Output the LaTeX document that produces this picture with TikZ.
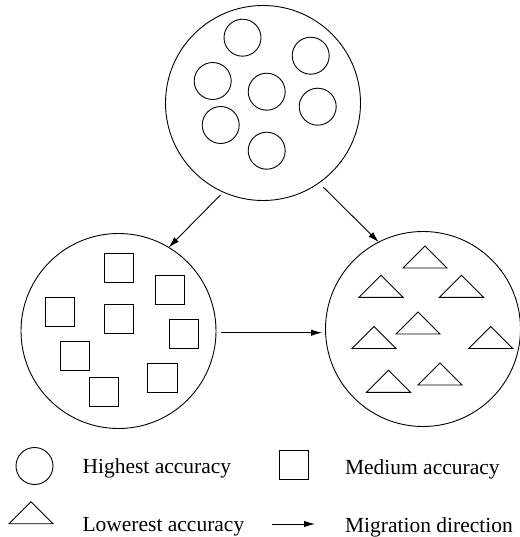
\documentclass[tikz,border=0pt]{standalone}
\usepackage{fontspec}
\setmainfont{Liberation Serif}
\usetikzlibrary{positioning,arrows.meta}

\begin{document}
\begin{tikzpicture}[x=1pt,y=-1pt,
  every node/.style={inner sep=0pt,outer sep=0pt},
  pool/.style={draw=black,circle,line width=0.9pt,minimum size=195pt},
  high/.style={draw=black,circle,line width=0.9pt,minimum size=37pt},
  medium/.style={draw=black,rectangle,line width=0.9pt,minimum size=29.5pt},
  low/.style={draw=black,line width=0.9pt},
  migr/.style={draw=black,line width=0.9pt,-{Latex[length=11pt,width=6.5pt]}},
  keytext/.style={anchor=base west,font=\fontsize{21.5}{25}\selectfont}]
\useasboundingbox (0,0) rectangle (519,537);
\node [pool] (top) at (263,103) {};
\node [pool] (mid) at (118.5,331) {};
\node [pool] (bot) at (423,329) {};
\foreach \n/\x/\y in {1/242.5/37.7,2/310.7/55.7,3/212.7/81,4/266.7/91.7,5/317.7/106.7,6/220.7/125,7/266.7/150.7}
  \node [high] (h\n) at (\x,\y) {};
\foreach \n/\x/\y in {1/118.7/268,2/169.7/290,3/60/312,4/118.7/319,5/184/333.7,6/74.7/355.7,7/162.3/377.7,8/104/392}
  \node [medium] (m\n) at (\x,\y) {};
\foreach \x/\y in {425/246,381/275.3,461.5/275.3,418/312,374/326.5,490.7/326.5,388.5/370.3,440/363}
  \draw [low] (\x,\y) -- ++(-22,22) -- ++(44,0) -- cycle;
\draw [migr,shorten <=4pt] (top.-114.5) -- (mid.59);
\draw [migr,shorten <=6pt] (top.-55) -- (bot.117);
\draw [migr,shorten <=5pt,shorten >=3.5pt] (mid.-1.75) -- (mid.-1.75 -| bot.west);
\node [high] (keyhigh) at (34.5,466) {};
\node [keytext] (keyhightext) at (82.5,473.5) {Highest accuracy};
\node [medium] (keymed) at (294,465) {};
\node [keytext] (keymedtext) at (345,474.3) {Medium accuracy};
\draw [low] (31,501.7) -- ++(-22,22) -- ++(44,0) -- cycle;
\node [keytext] (keylowtext) at (82.5,531.7) {Lowerest accuracy};
\coordinate (keyfrom) at (271.7,524);
\coordinate (keyto) at (315,524);
\draw [migr] (keyfrom) -- (keyto);
\node [keytext] (keymigrtext) at (345,532) {Migration direction};
\end{tikzpicture}
\end{document}
